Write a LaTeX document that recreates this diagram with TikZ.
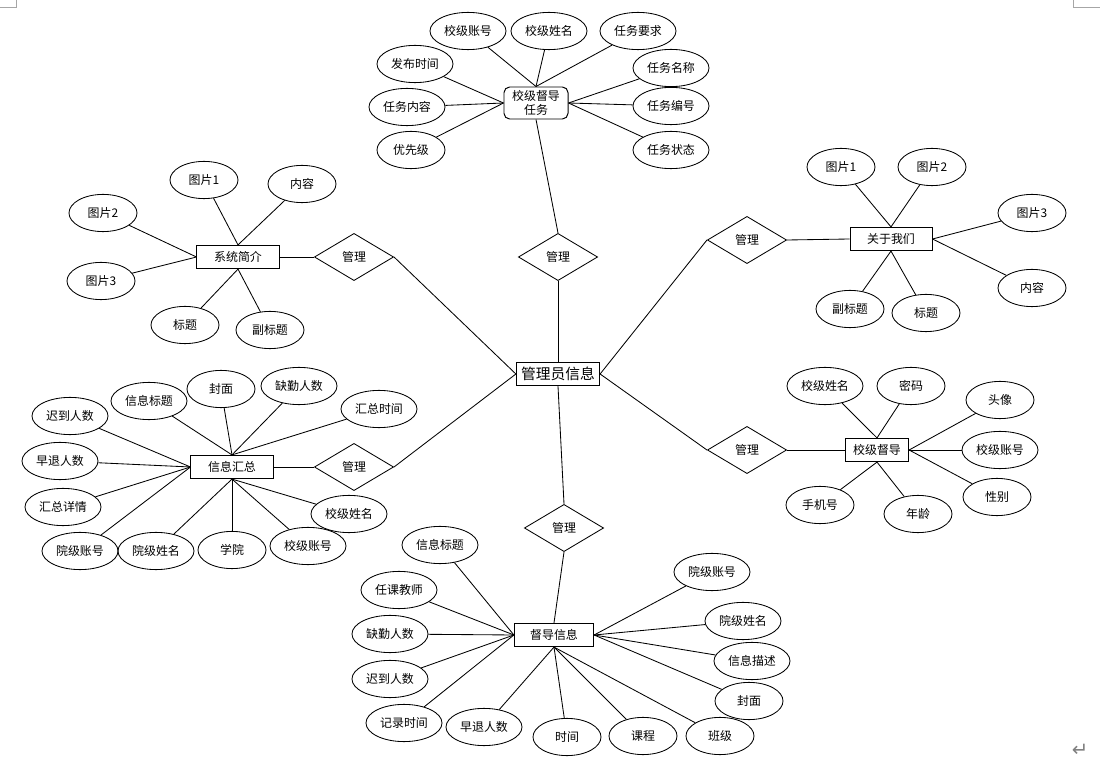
\documentclass[tikz,border=0pt]{standalone}
\usepackage{fontspec}
\setmainfont{Noto Sans CJK SC}
\newfontfamily\symfont{DejaVu Sans}
\usepackage{tikz}
\usetikzlibrary{shapes.geometric}

\begin{document}
\begin{tikzpicture}[
  x=0.025cm, y=-0.025cm,
  every node/.style={font=\fontsize{8.5}{10}\selectfont},
  attr/.style={ellipse, draw, line width=0.6pt, minimum width=1.9cm, minimum height=0.93cm, inner sep=0pt},
  sattr/.style={attr, minimum width=1.7cm},
  ent/.style={rectangle, draw, line width=0.7pt, minimum width=2.05cm, minimum height=0.58cm, inner sep=0pt},
  rel/.style={diamond, draw, line width=0.6pt, minimum width=1.98cm, minimum height=1.18cm, inner sep=0pt},
  link/.style={line width=0.6pt}
]
\useasboundingbox (0,0) rectangle (1100,761);

% Page corner marks
\draw[gray!70, line width=0.7pt] (16,0) -- (16,7) -- (0,7);
\draw[gray!70, line width=0.7pt] (1073,0) -- (1073,7) -- (1100,7);
\node[text=gray, font=\symfont\fontsize{14}{15}\selectfont] (ret) at (1080,750) {↵};

% Centre
\node[ent, minimum width=2.08cm, font=\fontsize{10.5}{12}\selectfont] (admin) at (558,374) {管理员信息};

% Relationships
\node[rel] (mtop) at (558,257) {管理};
\node[rel] (mleft) at (354,257) {管理};
\node[rel] (msum) at (354,467) {管理};
\node[rel] (mright) at (747,240) {管理};
\node[rel] (msup) at (747,450) {管理};
\node[rel] (mrec) at (564,528) {管理};

% Task
\node[ent, rounded corners=4pt, minimum width=1.6cm, minimum height=0.8cm, align=center] (task) at (536,103) {校级督导\\任务};
\node[attr] (tacct) at (468,31) {校级账号};
\node[attr] (tname) at (549,31) {校级姓名};
\node[attr] (treq) at (638,31) {任务要求};
\node[attr] (ttime) at (415,64) {发布时间};
\node[attr] (ttitle) at (671,68) {任务名称};
\node[attr] (tcont) at (407,107) {任务内容};
\node[attr] (tno) at (671,106) {任务编号};
\node[sattr] (tprio) at (411,150) {优先级};
\node[attr] (tstate) at (671,150) {任务状态};

% System intro
\node[ent] (intro) at (238,257) {系统简介};
\node[sattr] (ipic1) at (204,180) {图片1};
\node[sattr] (icont) at (302,184) {内容};
\node[sattr] (ipic2) at (103,213) {图片2};
\node[sattr] (ipic3) at (101,281) {图片3};
\node[sattr] (ititle) at (185,325) {标题};
\node[sattr] (isub) at (270,330) {副标题};

% About us
\node[ent] (about) at (891,239) {关于我们};
\node[sattr] (apic1) at (841,167) {图片1};
\node[sattr] (apic2) at (932,167) {图片2};
\node[sattr] (apic3) at (1032,213) {图片3};
\node[sattr] (acont) at (1032,288) {内容};
\node[sattr] (asub) at (850,309) {副标题};
\node[sattr] (atitle) at (926,313) {标题};

% Summary
\node[ent] (summary) at (232,467) {信息汇总};
\node[attr] (slate) at (70,416) {迟到人数};
\node[attr] (stitle) at (149,401) {信息标题};
\node[sattr] (scover) at (221,389) {封面};
\node[attr] (sabs) at (299,386) {缺勤人数};
\node[attr] (stime) at (379,409) {汇总时间};
\node[attr] (searly) at (60,461) {早退人数};
\node[attr] (sdet) at (63,507) {汇总详情};
\node[attr] (sdacct) at (80,551) {院级账号};
\node[attr] (sdname) at (156,551) {院级姓名};
\node[sattr] (scol) at (232,550) {学院};
\node[attr] (sacct) at (308,546) {校级账号};
\node[attr] (sname) at (349,514) {校级姓名};

% Supervisor
\node[ent, minimum width=1.58cm] (sup) at (877,450) {校级督导};
\node[attr] (uname) at (825,386) {校级姓名};
\node[sattr] (upwd) at (911,386) {密码};
\node[sattr] (uavatar) at (1000,400) {头像};
\node[attr] (uacct) at (1000,450) {校级账号};
\node[sattr] (usex) at (997,497) {性别};
\node[sattr] (uphone) at (820,505) {手机号};
\node[sattr] (uage) at (918,514) {年龄};

% Record
\node[ent, minimum width=1.98cm] (record) at (554,635) {督导信息};
\node[attr] (rtitle) at (440,545) {信息标题};
\node[attr] (rteach) at (399,590) {任课教师};
\node[attr] (rabs) at (390,634) {缺勤人数};
\node[attr] (rlate) at (390,679) {迟到人数};
\node[attr] (rtime) at (404,723) {记录时间};
\node[attr] (rearly) at (484,727) {早退人数};
\node[sattr] (rdate) at (567,737) {时间};
\node[sattr] (rcourse) at (643,736) {课程};
\node[sattr] (rclass) at (720,736) {班级};
\node[attr] (rdacct) at (712,572) {院级账号};
\node[attr] (rdname) at (743,621) {院级姓名};
\node[attr] (rdesc) at (752,661) {信息描述};
\node[sattr] (rcover) at (749,701) {封面};

% Links to centre
\draw[link] (admin.north) -- (mtop.south);
\draw[link] (mtop.north) -- (task.south);
\draw[link] (intro.east) -- (mleft.west);
\draw[link] (mleft.east) -- (admin.west);
\draw[link] (summary.east) -- (msum.west);
\draw[link] (msum.east) -- (admin.west);
\draw[link] (mright.east) -- (about.west);
\draw[link] (mright.west) -- (admin.east);
\draw[link] (msup.east) -- (sup.west);
\draw[link] (msup.west) -- (admin.east);
\draw[link] (admin.south) -- (mrec.north);
\draw[link] (mrec.south) -- (record.north);

% Task attributes
\draw[link] (tacct) -- (task.north);
\draw[link] (tname) -- (task.north);
\draw[link] (treq) -- (task.north);
\draw[link] (ttime) -- (task.west);
\draw[link] (tcont) -- (task.west);
\draw[link] (tprio) -- (task.west);
\draw[link] (ttitle) -- (task.east);
\draw[link] (tno) -- (task.east);
\draw[link] (tstate) -- (task.east);

% Intro attributes
\draw[link] (ipic1) -- (intro.north);
\draw[link] (icont) -- (intro.north);
\draw[link] (ipic2) -- (intro.west);
\draw[link] (ipic3) -- (intro.west);
\draw[link] (ititle) -- (intro.south);
\draw[link] (isub) -- (intro.south);

% About attributes
\draw[link] (apic1) -- (about.north);
\draw[link] (apic2) -- (about.north);
\draw[link] (apic3) -- (about.east);
\draw[link] (acont) -- (about.east);
\draw[link] (asub) -- (about.south);
\draw[link] (atitle) -- (about.south);

% Summary attributes
\draw[link] (slate) -- (summary.west);
\draw[link] (searly) -- (summary.west);
\draw[link] (sdet) -- (summary.west);
\draw[link] (sdacct) -- (summary.west);
\draw[link] (stitle) -- (summary.north);
\draw[link] (scover) -- (summary.north);
\draw[link] (sabs) -- (summary.north);
\draw[link] (stime) -- (summary.north);
\draw[link] (sdname) -- (summary.south);
\draw[link] (scol) -- (summary.south);
\draw[link] (sacct) -- (summary.south);
\draw[link] (sname) -- (summary.south);

% Supervisor attributes
\draw[link] (uname) -- (sup.north);
\draw[link] (upwd) -- (sup.north);
\draw[link] (uavatar) -- (sup.east);
\draw[link] (uacct) -- (sup.east);
\draw[link] (usex) -- (sup.east);
\draw[link] (uphone) -- (sup.south);
\draw[link] (uage) -- (sup.south);

% Record attributes
\draw[link] (rtitle) -- (record.west);
\draw[link] (rteach) -- (record.west);
\draw[link] (rabs) -- (record.west);
\draw[link] (rlate) -- (record.west);
\draw[link] (rtime) -- (record.west);
\draw[link] (rearly) -- (record.south);
\draw[link] (rdate) -- (record.south);
\draw[link] (rcourse) -- (record.south);
\draw[link] (rclass) -- (record.south);
\draw[link] (rdacct) -- (record.east);
\draw[link] (rdname) -- (record.east);
\draw[link] (rdesc) -- (record.east);
\draw[link] (rcover) -- (record.east);

\end{tikzpicture}
\end{document}
